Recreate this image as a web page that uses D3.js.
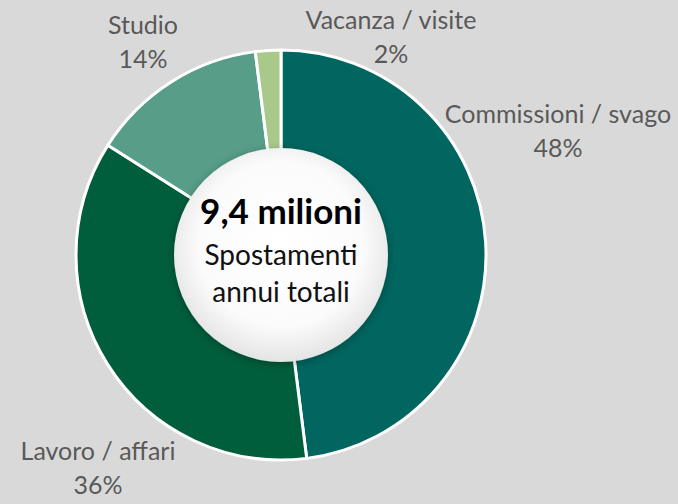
<!DOCTYPE html>
<html>
<head>
<meta charset="utf-8">
<script src="https://cdn.jsdelivr.net/npm/d3@7"></script>
<style>
  body { margin: 0; background: #d9d9d9; }
  svg { display: block; }
</style>
</head>
<body>
<div id="chart-area"></div>
<script>
// Data
let categories = ['Commissioni / svago', 'Lavoro / affari', 'Studio', 'Vacanza / visite']
let shares = [48, 36, 14, 2]
let colors = ['#00665f', '#005e3c', '#579d88', '#a8c98a']
let centerTitle = '9,4 milioni'
let centerLines = ['Spostamenti', 'annui totali']

// Layout
let width = 678, height = 504
let cx = 281, cy = 255
let outerR = 205, innerR = 95, holeR = 107

// label anchor points (Excel's best fit placement): center x, first baseline
let labelPos = [[558, 123], [98, 460], [143, 34], [391, 29]]

let svg = d3.select('#chart-area').append('svg')
  .attr('width', width)
  .attr('height', height)
  .style('font-family', 'Lato, "Open Sans", sans-serif')

let defs = svg.append('defs')

let grad = defs.append('radialGradient')
  .attr('id', 'holeGrad')
  .attr('cx', '50%').attr('cy', '45%').attr('r', '55%')
grad.append('stop').attr('offset', '0%').attr('stop-color', '#ffffff')
grad.append('stop').attr('offset', '70%').attr('stop-color', '#fbfbfb')
grad.append('stop').attr('offset', '100%').attr('stop-color', '#e4e4e4')

let shadow = defs.append('filter')
  .attr('id', 'shadow')
  .attr('x', '-20%').attr('y', '-20%').attr('width', '140%').attr('height', '140%')
shadow.append('feDropShadow')
  .attr('dx', 0).attr('dy', 2)
  .attr('stdDeviation', 4)
  .attr('flood-color', '#000')
  .attr('flood-opacity', 0.3)

let g = svg.append('g')
  .attr('transform', 'translate(' + cx + ', ' + cy + ')')

let pie = d3.pie().sort(null).value((d) => { return d })
let arc = d3.arc().innerRadius(innerR).outerRadius(outerR)

g.selectAll('path.slice')
  .data(pie(shares))
  .enter().append('path')
  .attr('class', 'slice')
  .attr('d', arc)
  .attr('fill', (d, i) => { return colors[i] })
  .attr('stroke', '#ffffff')
  .attr('stroke-width', 3)
  .attr('stroke-linejoin', 'round')

// center disc
g.append('circle')
  .attr('r', holeR)
  .attr('fill', 'url(#holeGrad)')
  .attr('filter', 'url(#shadow)')

g.append('text')
  .attr('y', -31)
  .attr('text-anchor', 'middle')
  .attr('font-size', '35px')
  .attr('font-weight', 'bold')
  .attr('fill', '#000')
  .text(centerTitle)

centerLines.forEach((line, i) => {
  g.append('text')
    .attr('y', 10 + i * 37)
    .attr('text-anchor', 'middle')
    .attr('font-size', '28px')
    .attr('fill', '#111')
    .text(line)
})

// slice labels
let labels = svg.selectAll('g.label')
  .data(categories)
  .enter().append('g')
  .attr('class', 'label')
  .attr('transform', (d, i) => { return 'translate(' + labelPos[i][0] + ', ' + labelPos[i][1] + ')' })

labels.append('text')
  .attr('text-anchor', 'middle')
  .attr('font-size', '25px')
  .attr('fill', '#595959')
  .text((d) => { return d })

labels.append('text')
  .attr('y', 34)
  .attr('text-anchor', 'middle')
  .attr('font-size', '25px')
  .attr('fill', '#595959')
  .text((d, i) => { return shares[i] + '%' })
</script>
</body>
</html>
